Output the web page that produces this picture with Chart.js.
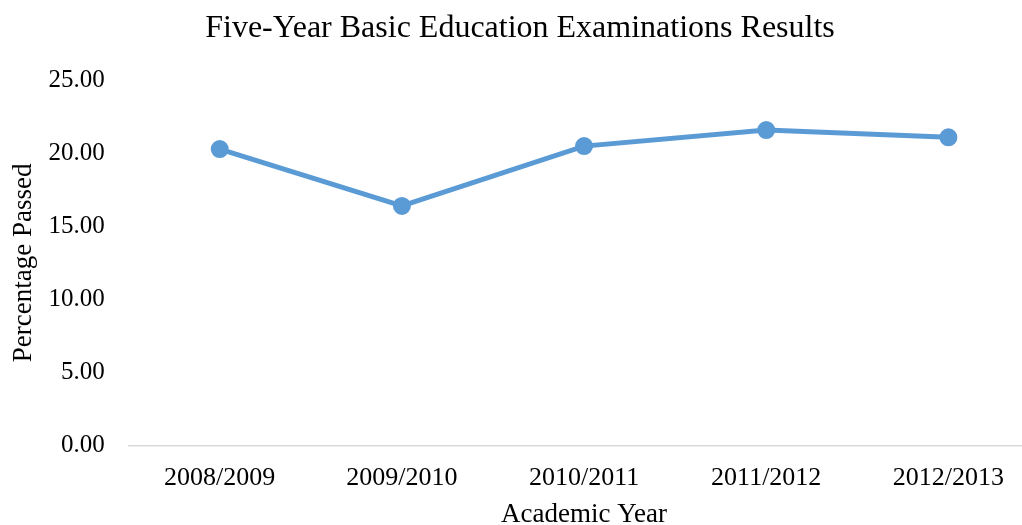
<!DOCTYPE html>
<html>
<head>
<meta charset="utf-8">
<script src="https://cdn.jsdelivr.net/npm/chart.js@4/dist/chart.umd.min.js"></script>
<style>
  html, body { margin: 0; padding: 0; background: #fff; }
  /* 元のグラフは右端と下端が切れているので、少し大きいcanvasを切り取る */
  #wrap { width: 1022px; height: 525px; overflow: hidden; position: relative; }
  #chart { position: absolute; left: 0; top: 0; }
</style>
</head>
<body>
<div id="wrap"><canvas id="chart" width="1051" height="531"></canvas></div>
<script>
// データ
const years = ['2008/2009', '2009/2010', '2010/2011', '2011/2012', '2012/2013'];
const passed = [20.3, 16.4, 20.5, 21.6, 21.1];
const yTicks = [0, 5, 10, 15, 20, 25];

const serif = '"Liberation Serif", "Times New Roman", serif';

var ctx = document.getElementById('chart');
var chart = new Chart(ctx, {
  type: 'line',
  data: {
    labels: years,
    datasets: [{
      label: 'Percentage Passed',
      data: passed,
      borderColor: '#5b9bd5',
      backgroundColor: '#5b9bd5',
      borderWidth: 5,
      pointRadius: 6.5,
      pointHoverRadius: 6.5,
      tension: 0
    }]
  },
  options: {
    responsive: false,
    animation: false,
    // タイトルの中心を x=520 に合わせるため左を負にする
    layout: { padding: { left: -10, right: 1, top: 0, bottom: 0 } },
    plugins: {
      legend: { display: false },
      tooltip: { enabled: false },
      title: {
        display: true,
        text: 'Five-Year Basic Education Examinations Results',
        color: '#000',
        font: { family: serif, size: 32, weight: 'normal' },
        padding: { top: 9, bottom: 33 }
      }
    },
    scales: {
      x: {
        offset: true,
        grid: { display: false, drawTicks: false },
        border: { display: true, color: '#d9d9d9', width: 1.5 },
        ticks: {
          color: '#000',
          font: { family: serif, size: 26 },
          padding: 17,
          maxRotation: 0
        },
        title: {
          display: true,
          text: 'Academic Year',
          color: '#000',
          font: { family: serif, size: 27 },
          // tick paddingは高さに2倍で入るのでここで相殺
          padding: { top: -12, bottom: 0 }
        }
      },
      y: {
        min: yTicks[0],
        max: yTicks[yTicks.length - 1],
        grid: { display: false, drawTicks: false },
        border: { display: false },
        afterBuildTicks: function(axis) {
          axis.ticks = yTicks.map(function(v) { return { value: v }; });
        },
        ticks: {
          color: '#000',
          font: { family: serif, size: 25 },
          padding: 24,
          callback: function(value) { return Number(value).toFixed(2); }
        },
        title: {
          display: true,
          text: 'Percentage Passed',
          color: '#000',
          font: { family: serif, size: 27 },
          padding: { top: 18, bottom: -16 }
        }
      }
    }
  }
});
</script>
</body>
</html>
